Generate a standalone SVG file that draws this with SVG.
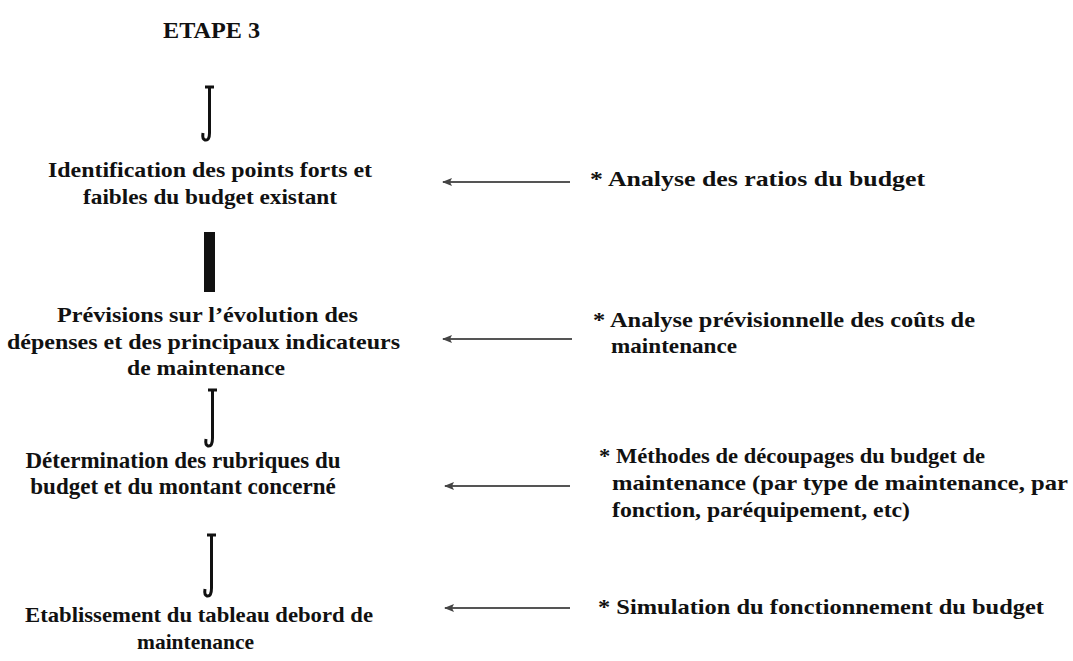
<svg xmlns="http://www.w3.org/2000/svg" width="1073" height="661" viewBox="0 0 1073 661">
<style>
text{font-family:"Liberation Serif","Times New Roman",serif;font-weight:bold;fill:#111;font-size:22px}
.n{text-anchor:middle}
.j{fill:none;stroke:#111;stroke-width:3}
.a{stroke:#555;stroke-width:2}
</style>
<defs>
<marker id="ah" markerWidth="10" markerHeight="8" refX="1" refY="4" orient="auto" markerUnits="userSpaceOnUse">
<path d="M0,4 L10,0 L8,4 L10,8 Z" fill="#444"/>
</marker>
</defs>
<rect width="1073" height="661" fill="#fff"/>
<text x="163" y="38" style="font-size:24px" textLength="97" lengthAdjust="spacingAndGlyphs">ETAPE 3</text>
<g id="n1"><text class="n" x="210" y="177" textLength="324" lengthAdjust="spacingAndGlyphs">Identification des points forts et</text><text class="n" x="210" y="204" textLength="254" lengthAdjust="spacingAndGlyphs">faibles du budget existant</text></g>
<g id="n2"><text x="57" y="322" textLength="301" lengthAdjust="spacingAndGlyphs">Prévisions sur l’évolution des</text><text x="7" y="349" textLength="393" lengthAdjust="spacingAndGlyphs">dépenses et des principaux indicateurs</text><text x="127" y="375" textLength="158" lengthAdjust="spacingAndGlyphs">de maintenance</text></g>
<g id="n3"><text class="n" x="183" y="468" style="font-size:23px">Détermination des rubriques du</text><text class="n" x="183" y="494" style="font-size:23px">budget et du montant concerné</text></g>
<g id="n4"><text x="25" y="622" textLength="348" lengthAdjust="spacingAndGlyphs">Etablissement du tableau debord de</text><text x="137" y="649" textLength="117" lengthAdjust="spacingAndGlyphs">maintenance</text></g>
<g id="r1"><text x="590" y="186" textLength="335" lengthAdjust="spacingAndGlyphs">* Analyse des ratios du budget</text></g>
<g id="r2"><text x="593" y="327" textLength="382" lengthAdjust="spacingAndGlyphs">* Analyse prévisionnelle des coûts de</text><text x="611" y="353" textLength="126" lengthAdjust="spacingAndGlyphs">maintenance</text></g>
<g id="r3"><text x="599" y="463" textLength="386" lengthAdjust="spacingAndGlyphs">* Méthodes de découpages du budget de</text><text x="612" y="490" textLength="456" lengthAdjust="spacingAndGlyphs">maintenance (par type de maintenance, par</text><text x="612" y="517" textLength="298" lengthAdjust="spacingAndGlyphs">fonction, paréquipement, etc)</text></g>
<g id="r4"><text x="598" y="614" textLength="446" lengthAdjust="spacingAndGlyphs">* Simulation du fonctionnement du budget</text></g>
<g id="connectors">
<path class="j" d="M205,87 H214 M209.5,87 V133 Q209.5,141 205,140 Q202,139 203,133"/>
<rect x="204" y="232" width="11" height="60" fill="#111"/>
<path class="j" d="M208,390 H217 M212.5,390 V438 Q212.5,447 208,446 Q205,445 206,439"/>
<path class="j" d="M207,535 H216 M211.5,535 V588 Q211.5,597 207,596 Q204,595 205,589"/>
<line class="a" x1="443" y1="182" x2="570" y2="182" marker-start="url(#ah)"/>
<line class="a" x1="443" y1="339" x2="572" y2="339" marker-start="url(#ah)"/>
<line class="a" x1="445" y1="486" x2="570" y2="486" marker-start="url(#ah)"/>
<line class="a" x1="445" y1="608" x2="570" y2="608" marker-start="url(#ah)"/>
</g>
</svg>
